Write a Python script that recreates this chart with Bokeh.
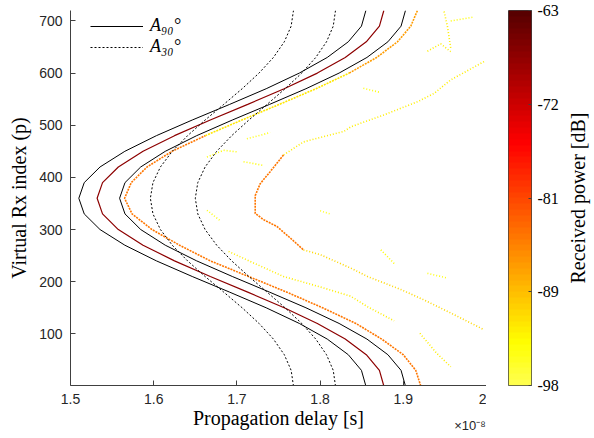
import math
import numpy as np
from bokeh.plotting import figure
from bokeh.layouts import row
from bokeh.models import (Range1d, LinearColorMapper, FixedTicker, Legend, LinearAxis,
                          LegendItem, ColumnDataSource)
from bokeh.transform import linear_cmap
from bokeh.embed import file_html
from bokeh.resources import INLINE

# ---------------- data (delay in units of 1e-8 s, index p) ----------------
P_GRID = [0, 30, 60, 90, 120, 150, 180, 210, 240, 270, 300, 330, 360,
          390, 420, 450, 480, 510, 540, 570, 600, 630, 660, 690, 720]

A90_OUTER = [1.855, 1.8497, 1.8339, 1.8086, 1.7750, 1.7352, 1.6913, 1.6463, 1.6032, 1.5653, 1.5355, 1.5165, 1.510,
             1.5165, 1.5355, 1.5653, 1.6032, 1.6463, 1.6913, 1.7352, 1.7750, 1.8086, 1.8339, 1.8497, 1.855]
A90_INNER = [1.9026, 1.8973, 1.8815, 1.8563, 1.8228, 1.7830, 1.7393, 1.6945, 1.6516, 1.6139, 1.5844, 1.5655, 1.559,
             1.5655, 1.5844, 1.6139, 1.6516, 1.6945, 1.7393, 1.7830, 1.8228, 1.8563, 1.8815, 1.8973, 1.9026]
A30_OUTER = [1.768, 1.7652, 1.7570, 1.7439, 1.7266, 1.7063, 1.6842, 1.6618, 1.6407, 1.6223, 1.6081, 1.5991, 1.596,
             1.5991, 1.6081, 1.6223, 1.6407, 1.6618, 1.6842, 1.7063, 1.7266, 1.7439, 1.7570, 1.7652, 1.768]
A30_INNER = [1.8185, 1.8158, 1.8077, 1.7948, 1.7779, 1.7579, 1.7363, 1.7144, 1.6937, 1.6757, 1.6618, 1.6530, 1.650,
             1.6530, 1.6618, 1.6757, 1.6937, 1.7144, 1.7363, 1.7579, 1.7779, 1.7948, 1.8077, 1.8158, 1.8185]

# strongest (LoS) path
LOS_X = [1.8766, 1.8713, 1.8555, 1.8302, 1.7967, 1.7568, 1.7130, 1.6680, 1.6250, 1.5872, 1.5575, 1.5385, 1.532,
         1.5385, 1.5575, 1.5872, 1.6250, 1.6680, 1.7130, 1.7568, 1.7967, 1.8302, 1.8555, 1.8713, 1.8766]
LOS_DB = -67

# dense (orange) traces
TR1_X = [1.921, 1.915, 1.900, 1.874, 1.843, 1.803, 1.760, 1.714, 1.668, 1.631, 1.598, 1.574, 1.565,
         1.573, 1.592, 1.622, 1.662]
TR1_P = [0, 30, 60, 90, 120, 150, 180, 210, 240, 270, 300, 330, 360, 390, 420, 450, 480]
TR1_DB = -84
TR1U_X = [1.662, 1.706, 1.751, 1.795, 1.835]
TR1U_P = [480, 510, 540, 570, 600]
TR1U_DB = -92
TR1T_X = [1.835, 1.868, 1.893, 1.909, 1.917]
TR1T_P = [600, 630, 660, 690, 720]
TR1T_DB = -87

TR2_X = [1.756, 1.740, 1.728, 1.722, 1.722, 1.732, 1.748, 1.764, 1.780]
TR2_P = [443, 411, 388, 365, 331, 319, 306, 284, 261]
TR2_DB = -84

# sparse (yellow) traces
TR2A_X = [1.997, 1.957, 1.937, 1.917, 1.877, 1.837, 1.8285, 1.780, 1.756]
TR2A_P = [622, 587, 561, 545, 520, 497, 488, 468, 443]
TR2A_DB = -93
TR2C_X = [1.780, 1.800, 1.837, 1.857, 1.897, 1.925, 1.957, 1.997]
TR2C_P = [261, 252, 226, 210, 185, 165, 140, 108]
TR2C_DB = -91
TR3_X = [1.690, 1.720, 1.756, 1.800, 1.837, 1.857, 1.889]
TR3_P = [258, 236, 210, 190, 172, 152, 125]
TR3_DB = -93

FRAG_X = [[1.664, 1.684, 1.700], [1.708, 1.732], [1.712, 1.740], [1.949, 1.953, 1.957],
          [1.957, 1.983], [1.929, 1.945, 1.957], [1.873, 1.889], [1.929, 1.953],
          [1.920, 1.940, 1.957], [1.664, 1.680], [1.852, 1.872], [1.800, 1.812]]
FRAG_P = [[439, 452, 449], [430, 423], [474, 486], [718, 690, 648],
          [700, 707], [642, 656, 641], [261, 235], [216, 207],
          [101, 63, 37], [337, 317], [571, 563], [336, 330]]
FRAG_DB = [-94, -94, -95, -93, -94, -93, -94, -95, -93, -95, -95, -96]

X_TICKS = [1.5, 1.6, 1.7, 1.8, 1.9, 2.0]
X_TICK_LABELS = ["1.5", "1.6", "1.7", "1.8", "1.9", "2"]
Y_TICKS = [100, 200, 300, 400, 500, 600, 700]
CB_TICKS = [-98, -89.25, -80.5, -71.75, -63]
CB_LABELS = ["-98", "-89", "-81", "-72", "-63"]
DB_LOW, DB_HIGH = -98, -63
X_EXP_POS = 1.982
X_EXP_TEXT = "×10⁻⁸"


# ---------------- colormap (reversed, truncated "hot") ----------------
def hot_part(n):
    cols = []
    for i in range(n):
        t = i / (n - 1)
        tp = 0.825 - t * 0.695
        r = min(1.0, tp / 0.375)
        g = min(1.0, max(0.0, (tp - 0.375) / 0.375))
        b = min(1.0, max(0.0, (tp - 0.75) / 0.25))
        cols.append('#%02x%02x%02x' % (round(r * 255), round(g * 255), round(b * 255)))
    return cols


NPAL = 64
PAL = hot_part(NPAL)
mapper = LinearColorMapper(palette=PAL, low=DB_LOW, high=DB_HIGH)
cmap = linear_cmap("val", PAL, DB_LOW, DB_HIGH)

SERIF = "Liberation Serif"
SANS = "Liberation Sans"
AX = "#404040"

# ---------------- main plot ----------------
p = figure(frame_width=416, frame_height=375, output_backend="svg", toolbar_location=None,
           x_range=Range1d(1.5, 2.0), y_range=Range1d(1, 720),
           min_border_left=70, min_border_right=0, min_border_top=10, min_border_bottom=0)
p.outline_line_color = None
p.xgrid.visible = False
p.ygrid.visible = False
p.background_fill_color = "white"

for ax in (p.xaxis[0], p.yaxis[0]):
    ax.axis_line_color = AX
    ax.major_tick_line_color = AX
    ax.major_tick_in = 5
    ax.major_tick_out = 0
    ax.minor_tick_line_color = None
    ax.major_label_text_font = SANS
    ax.major_label_text_font_size = "14px"
    ax.major_label_text_color = "#262626"
    ax.axis_label_text_font = SERIF
    ax.axis_label_text_font_size = "20px"
    ax.axis_label_text_font_style = "normal"
    ax.axis_label_text_color = "black"

p.xaxis.ticker = FixedTicker(ticks=X_TICKS)
p.xaxis.major_label_overrides = {t: l for t, l in zip(X_TICKS, X_TICK_LABELS)}
p.xaxis.axis_label = "Propagation delay [s]"
p.xaxis.major_label_standoff = 8
p.xaxis.axis_label_standoff = 0
p.yaxis.ticker = FixedTicker(ticks=Y_TICKS)
p.yaxis.axis_label = "Virtual Rx index (p)"
p.yaxis.major_label_standoff = 8
p.yaxis.axis_label_standoff = 6

# exponent of the delay axis
xexp = LinearAxis(ticker=FixedTicker(ticks=[X_EXP_POS]),
                  major_label_overrides={X_EXP_POS: X_EXP_TEXT},
                  axis_line_color=None, major_tick_line_color=None, minor_tick_line_color=None,
                  major_tick_in=0, major_tick_out=0, major_label_standoff=-14,
                  major_label_text_font=SANS, major_label_text_font_size="13px",
                  major_label_text_color="#262626")
p.add_layout(xexp, "below")

# sparse yellow traces (dotted look)
src_s = ColumnDataSource(dict(xs=[TR2A_X, TR2C_X, TR3_X] + FRAG_X,
                              ys=[TR2A_P, TR2C_P, TR3_P] + FRAG_P,
                              val=[TR2A_DB, TR2C_DB, TR3_DB] + FRAG_DB))
p.multi_line("xs", "ys", source=src_s, line_width=1.6, line_dash="1 2", line_color=cmap)

# dense orange traces
src_d = ColumnDataSource(dict(xs=[TR1_X, TR1U_X, TR1T_X, TR2_X],
                              ys=[TR1_P, TR1U_P, TR1T_P, TR2_P],
                              val=[TR1_DB, TR1U_DB, TR1T_DB, TR2_DB]))
p.multi_line("xs", "ys", source=src_d, line_width=1.6, line_dash="2 1", line_color=cmap)

# LoS path
src_l = ColumnDataSource(dict(xs=[LOS_X], ys=[P_GRID], val=[LOS_DB]))
p.multi_line("xs", "ys", source=src_l, line_width=1.2, line_color=cmap)

# model bounds
r90a = p.line(A90_OUTER, P_GRID, line_color="black", line_width=1)
r90b = p.line(A90_INNER, P_GRID, line_color="black", line_width=1)
r30a = p.line(A30_OUTER, P_GRID, line_color="black", line_width=1, line_dash="2 2")
r30b = p.line(A30_INNER, P_GRID, line_color="black", line_width=1, line_dash="2 2")

legend = Legend(items=[LegendItem(label="A₉₀°", renderers=[r90a]),
                       LegendItem(label="A₃₀°", renderers=[r30a])],
                location=(20, 328), border_line_color=None, background_fill_alpha=0,
                glyph_width=53, glyph_height=14, label_height=14, spacing=-6,
                padding=10, margin=0, label_standoff=7,
                label_text_font=SERIF, label_text_font_style="italic",
                label_text_font_size="18px", label_text_color="black")
p.add_layout(legend)

# ---------------- colour bar (own small plot sharing the frame height) ----------------
c = figure(frame_width=23, frame_height=375, output_backend="svg", toolbar_location=None,
           x_range=Range1d(0, 1), y_range=Range1d(DB_LOW, DB_HIGH),
           min_border_left=22, min_border_right=0, min_border_top=10, min_border_bottom=20,
           x_axis_location=None, y_axis_location="right")
c.grid.visible = False
c.outline_line_color = AX
levels = np.linspace(DB_LOW, DB_HIGH, NPAL).reshape(NPAL, 1)
c.image(image=[levels], x=0, y=DB_LOW, dw=1, dh=DB_HIGH - DB_LOW, color_mapper=mapper)
cax = c.yaxis[0]
cax.ticker = FixedTicker(ticks=CB_TICKS)
cax.major_label_overrides = {t: l for t, l in zip(CB_TICKS, CB_LABELS)}
cax.axis_line_color = None
cax.major_tick_line_color = AX
cax.major_tick_in = 3
cax.major_tick_out = 0
cax.minor_tick_line_color = None
cax.major_label_standoff = 6
cax.major_label_text_font = SERIF
cax.major_label_text_font_size = "16px"
cax.major_label_text_color = "black"

# colour bar title (own strip, same frame height)
d = figure(frame_width=33, frame_height=375, output_backend="svg", toolbar_location=None,
           x_range=Range1d(0, 1), y_range=Range1d(0, 1),
           min_border_left=0, min_border_right=0, min_border_top=10, min_border_bottom=20,
           x_axis_location=None, y_axis_location=None)
d.grid.visible = False
d.outline_line_color = None
d.text(x=[0.5], y=[0.5], text=["Received power [dB]"], angle=math.pi / 2,
       text_align="center", text_baseline="middle", text_font=SERIF,
       text_font_size="20px", text_color="black")

layout = row(p, c, d)
open("out.html", "w").write(file_html(layout, INLINE))
